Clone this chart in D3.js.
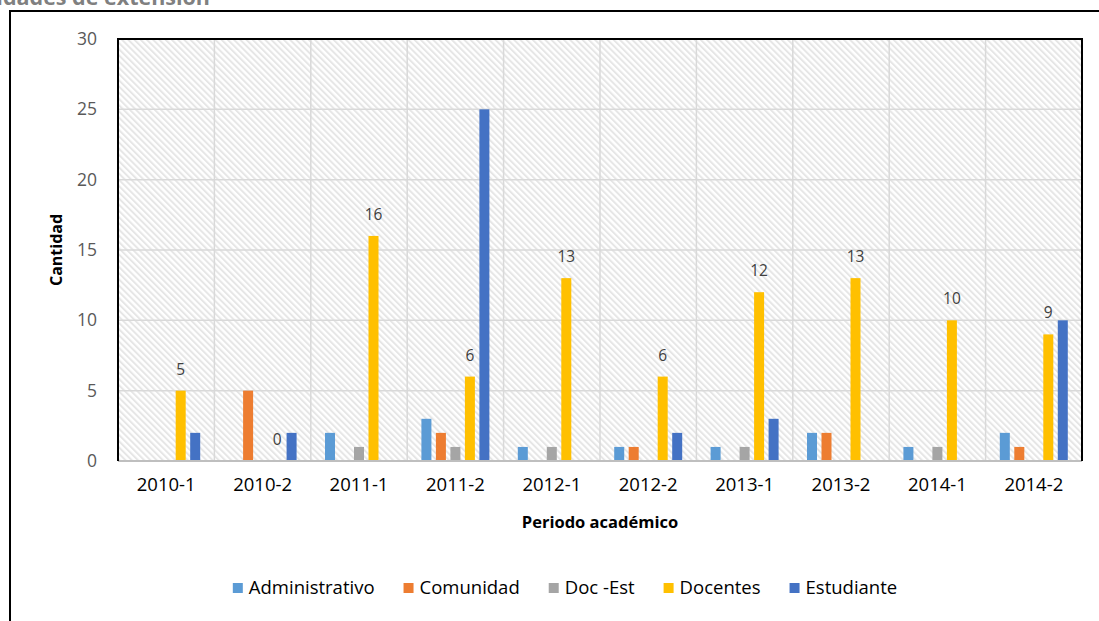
<!DOCTYPE html>
<html><head><meta charset="utf-8">
<script src="https://cdn.jsdelivr.net/npm/d3@7"></script>
<style>body{margin:0;background:#fff}svg{display:block}</style>
</head><body>
<svg id="chart" width="1099" height="621"></svg>
<script>
const categories = ["2010-1","2010-2","2011-1","2011-2","2012-1","2012-2","2013-1","2013-2","2014-1","2014-2"];
const seriesNames = ["Administrativo","Comunidad","Doc -Est","Docentes","Estudiante"];
const administrativo = [0,0,2,3,1,1,1,2,1,2];
const comunidad      = [0,5,0,2,0,1,0,2,0,1];
const docEst         = [0,0,1,1,1,0,1,0,1,0];
const docentes       = [5,0,16,6,13,6,12,13,10,9];
const estudiante     = [2,2,0,25,0,2,3,0,0,10];
const yTicks = [0,5,10,15,20,25,30];
const colors = ["#5B9BD5","#ED7D31","#A5A5A5","#FFC000","#4472C4"];
const titleText = "Actividades de extensión";
const xTitle = "Periodo académico";
const yTitle = "Cantidad";

const values = [administrativo, comunidad, docEst, docentes, estudiante];
const svg = d3.select("#chart");
const font = "'Open Sans', sans-serif";

const L = 118, R = 1082, T = 39, B = 461;

// hatch pattern
const defs = svg.append("defs");
const pat = defs.append("pattern").attr("id","hatch").attr("patternUnits","userSpaceOnUse")
  .attr("width",4.4).attr("height",4.4).attr("patternTransform","rotate(-45)");
pat.append("rect").attr("width",4.4).attr("height",4.4).attr("fill","#ffffff");
pat.append("rect").attr("x",0).attr("width",2).attr("height",4.4).attr("fill","#e6e6e6");

// title (cut off at top, as in the reference)
svg.append("text").attr("x",210).attr("y",5).attr("text-anchor","end")
  .attr("font-family",font).attr("font-weight","bold").attr("font-size",21.5)
  .attr("fill","#808080").text(titleText);

// outer frame (left and top visible)
svg.append("line").attr("x1",10).attr("x2",10).attr("y1",10).attr("y2",621).attr("stroke","#000").attr("stroke-width",2);
svg.append("line").attr("x1",9).attr("x2",1099).attr("y1",11).attr("y2",11).attr("stroke","#000").attr("stroke-width",2);

const x0 = d3.scaleBand().domain(categories).range([L,R]).paddingInner(0).paddingOuter(0);
const x1 = d3.scaleBand().domain(seriesNames).range([0,x0.bandwidth()]).paddingInner(0.31).paddingOuter(0.98);
const y = d3.scaleLinear().domain([0,30]).range([B,T]);

svg.append("rect").attr("x",L).attr("y",T).attr("width",R-L).attr("height",B-T).attr("fill","url(#hatch)");

// gridlines
svg.append("g").selectAll("line").data(yTicks.filter(d=>d>0)).join("line")
  .attr("x1",L).attr("x2",R).attr("y1",d=>y(d)).attr("y2",d=>y(d))
  .attr("stroke","#d9d9d9").attr("stroke-width",1.5);
svg.append("g").selectAll("line").data(categories.slice(1)).join("line")
  .attr("x1",d=>x0(d)).attr("x2",d=>x0(d)).attr("y1",T).attr("y2",B)
  .attr("stroke","#d9d9d9").attr("stroke-width",1.5);

// bars
const rows = [];
categories.forEach((c,i)=>seriesNames.forEach((s,j)=>rows.push({c,s,j,v:values[j][i]})));
svg.append("g").selectAll("rect").data(rows.filter(d=>d.v>0)).join("rect")
  .attr("x",d=>x0(d.c)+x1(d.s)).attr("width",x1.bandwidth())
  .attr("y",d=>y(d.v)).attr("height",d=>y(0)-y(d.v)).attr("fill",d=>colors[d.j]);

// data labels for Docentes
svg.append("g").selectAll("text").data(rows.filter(d=>d.s==="Docentes")).join("text")
  .attr("x",d=>x0(d.c)+x1(d.s)+x1.bandwidth()/2).attr("y",d=>y(d.v)-16)
  .attr("text-anchor","middle").attr("font-family",font).attr("font-size",15.5)
  .attr("fill","#404040").text(d=>d.v);

// plot border
svg.append("line").attr("x1",L).attr("x2",R).attr("y1",B).attr("y2",B).attr("stroke","#bfbfbf").attr("stroke-width",2);
svg.append("path").attr("d",`M${L},${B}V${T}H${R}V${B}`).attr("fill","none").attr("stroke","#000").attr("stroke-width",2);

// y axis
const yAxis = d3.axisLeft(y).tickValues(yTicks).tickSize(0).tickPadding(0);
const gy = svg.append("g").attr("transform",`translate(97,0)`).call(yAxis);
gy.select(".domain").remove();
gy.selectAll("text").attr("font-family",font).attr("font-size",17.5).attr("fill","#595959");

// x axis
const xAxis = d3.axisBottom(x0).tickSize(0).tickPadding(0);
const gx = svg.append("g").attr("transform",`translate(0,478)`).call(xAxis);
gx.select(".domain").remove();
gx.selectAll("text").attr("font-family",font).attr("font-size",18.5).attr("fill","#000").attr("dy","0.71em");

// axis titles
svg.append("text").attr("x",(L+R)/2).attr("y",528).attr("text-anchor","middle")
  .attr("font-family",font).attr("font-weight","bold").attr("font-size",16.5).attr("fill","#000").text(xTitle);
svg.append("text").attr("transform",`translate(62,${(T+B)/2}) rotate(-90)`).attr("text-anchor","middle")
  .attr("font-family",font).attr("font-weight","bold").attr("font-size",16).attr("fill","#000").text(yTitle);

// legend
const lg = svg.append("g");
const items = seriesNames.map((s,j)=>{
  const g = lg.append("g");
  g.append("rect").attr("width",10).attr("height",10).attr("y",-5).attr("fill",colors[j]);
  const t = g.append("text").attr("x",16).attr("y",0).attr("dy","0.35em")
    .attr("font-family",font).attr("font-size",18.5).attr("fill","#000").text(s);
  return {g, w:16+t.node().getComputedTextLength()};
});
const gap = 29;
const total = d3.sum(items,d=>d.w)+gap*(items.length-1);
let cx = 565 - total/2;
items.forEach(it=>{ it.g.attr("transform",`translate(${cx},588)`); cx += it.w+gap; });
</script>
</body></html>
